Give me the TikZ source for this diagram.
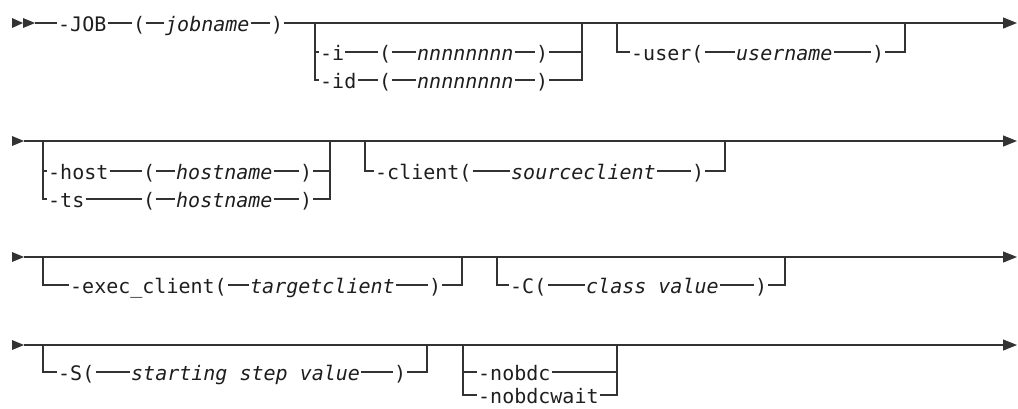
\documentclass[tikz,border=0pt]{standalone}
\usepackage{fontspec}
\setmonofont{DejaVu Sans Mono}
\usetikzlibrary{arrows.meta}
\definecolor{lc}{HTML}{333333}
\definecolor{tc}{HTML}{1E1E1E}
\newcommand{\synfont}{\ttfamily\fontsize{20}{24}\selectfont}
\tikzset{
  ln/.style={draw=lc, line width=1.2pt},
  endtip/.style={-{Triangle[length=14pt,width=11pt]}},
  tx/.style={inner xsep=1pt, inner ysep=0pt, text height=17pt, text depth=0pt,
             anchor=west, text=tc, font=\synfont},
  var/.style={tx, font=\synfont\itshape}
}
\begin{document}
\begin{tikzpicture}[x=1pt,y=-1pt]
\useasboundingbox (0,0) rectangle (1018,408);

% ===== Row 1 =====
\fill[lc] (12,18) -- (23,23) -- (12,28) -- cycle;
\fill[lc] (23,18) -- (35,23) -- (23,28) -- cycle;
\coordinate (s1) at (35,23);
\coordinate (e1) at (1017,23);
\node[tx]  (job) at (57,23) {-JOB};
\node[tx]  (lp1) at (132,23) {(};
\node[var] (jn)  at (164,23) {jobname};
\node[tx]  (rp1) at (270,23) {)};
\draw[ln] (s1) -- (job);
\draw[ln] (job) -- (lp1);
\draw[ln] (lp1) -- (jn);
\draw[ln] (jn) -- (rp1);
\draw[ln,endtip] (rp1) -- (e1);

\coordinate (b1l) at (315,23);
\coordinate (b1r) at (582,23);
\node[tx]  (oi)    at (319,52) {-i};
\node[tx]  (lpi)   at (378,52) {(};
\node[var] (ni)    at (416,52) {nnnnnnnn};
\node[tx]  (rpi)   at (535,52) {)};
\node[tx]  (oid)   at (319,80) {-id};
\node[tx]  (lpid)  at (378,80) {(};
\node[var] (nid)   at (416,80) {nnnnnnnn};
\node[tx]  (rpid)  at (535,80) {)};
\draw[ln] (b1l) |- (oi);
\draw[ln] (b1l) |- (oid);
\draw[ln] (oi) -- (lpi);
\draw[ln] (lpi) -- (ni);
\draw[ln] (ni) -- (rpi);
\draw[ln] (rpi) -| (b1r);
\draw[ln] (oid) -- (lpid);
\draw[ln] (lpid) -- (nid);
\draw[ln] (nid) -- (rpid);
\draw[ln] (rpid) -| (b1r);

\coordinate (u1l) at (617,23);
\coordinate (u1r) at (905,23);
\node[tx]  (user) at (630,52) {-user(};
\node[var] (un)   at (735,52) {username};
\node[tx]  (rpu)  at (871,52) {)};
\draw[ln] (u1l) |- (user);
\draw[ln] (user) -- (un);
\draw[ln] (un) -- (rpu);
\draw[ln] (rpu) -| (u1r);

% ===== Row 2 =====
\fill[lc] (12,136) -- (24,141) -- (12,146) -- cycle;
\coordinate (s2) at (24,141);
\coordinate (e2) at (1017,141);
\draw[ln,endtip] (s2) -- (e2);

\coordinate (h2l) at (43,141);
\coordinate (h2r) at (330,141);
\node[tx]  (host) at (47,171) {-host};
\node[tx]  (lph)  at (142,171) {(};
\node[var] (hn)   at (175,171) {hostname};
\node[tx]  (rph)  at (299,171) {)};
\node[tx]  (ts)   at (47,199) {-ts};
\node[tx]  (lpt)  at (142,199) {(};
\node[var] (tn)   at (175,199) {hostname};
\node[tx]  (rpt)  at (299,199) {)};
\draw[ln] (h2l) |- (host);
\draw[ln] (h2l) |- (ts);
\draw[ln] (host) -- (lph);
\draw[ln] (lph) -- (hn);
\draw[ln] (hn) -- (rph);
\draw[ln] (rph) -| (h2r);
\draw[ln] (ts) -- (lpt);
\draw[ln] (lpt) -- (tn);
\draw[ln] (tn) -- (rpt);
\draw[ln] (rpt) -| (h2r);

\coordinate (c2l) at (365,141);
\coordinate (c2r) at (725,141);
\node[tx]  (cli) at (374,171) {-client(};
\node[var] (sc)  at (510,171) {sourceclient};
\node[tx]  (rpc) at (691,171) {)};
\draw[ln] (c2l) |- (cli);
\draw[ln] (cli) -- (sc);
\draw[ln] (sc) -- (rpc);
\draw[ln] (rpc) -| (c2r);

% ===== Row 3 =====
\fill[lc] (12,252) -- (24,257) -- (12,262) -- cycle;
\coordinate (s3) at (24,257);
\coordinate (e3) at (1017,257);
\draw[ln,endtip] (s3) -- (e3);

\coordinate (x3l) at (43,257);
\coordinate (x3r) at (462,257);
\node[tx]  (exc) at (69,285) {-exec\_client(};
\node[var] (tcl) at (249,285) {targetclient};
\node[tx]  (rpx) at (428,285) {)};
\draw[ln] (x3l) |- (exc);
\draw[ln] (exc) -- (tcl);
\draw[ln] (tcl) -- (rpx);
\draw[ln] (rpx) -| (x3r);

\coordinate (k3l) at (497,257);
\coordinate (k3r) at (785,257);
\node[tx]  (cc)  at (509,285) {-C(};
\node[var] (cv)  at (585,285) {class value};
\node[tx]  (rpk) at (754,285) {)};
\draw[ln] (k3l) |- (cc);
\draw[ln] (cc) -- (cv);
\draw[ln] (cv) -- (rpk);
\draw[ln] (rpk) -| (k3r);

% ===== Row 4 =====
\fill[lc] (12,340) -- (24,345) -- (12,350) -- cycle;
\coordinate (s4) at (24,345);
\coordinate (e4) at (1017,345);
\draw[ln,endtip] (s4) -- (e4);

\coordinate (p4l) at (43,345);
\coordinate (p4r) at (427,345);
\node[tx]  (ss)  at (57,372) {-S(};
\node[var] (ssv) at (130,372) {starting step value};
\node[tx]  (rps) at (393,372) {)};
\draw[ln] (p4l) |- (ss);
\draw[ln] (ss) -- (ssv);
\draw[ln] (ssv) -- (rps);
\draw[ln] (rps) -| (p4r);

\coordinate (n4l) at (463,345);
\coordinate (n4r) at (617,345);
\node[tx] (nb)  at (477,372) {-nobdc};
\node[tx] (nbw) at (477,395) {-nobdcwait};
\draw[ln] (n4l) |- (nb);
\draw[ln] (n4l) |- (nbw);
\draw[ln] (nb) -| (n4r);
\draw[ln] (nbw) -| (n4r);
\end{tikzpicture}
\end{document}
